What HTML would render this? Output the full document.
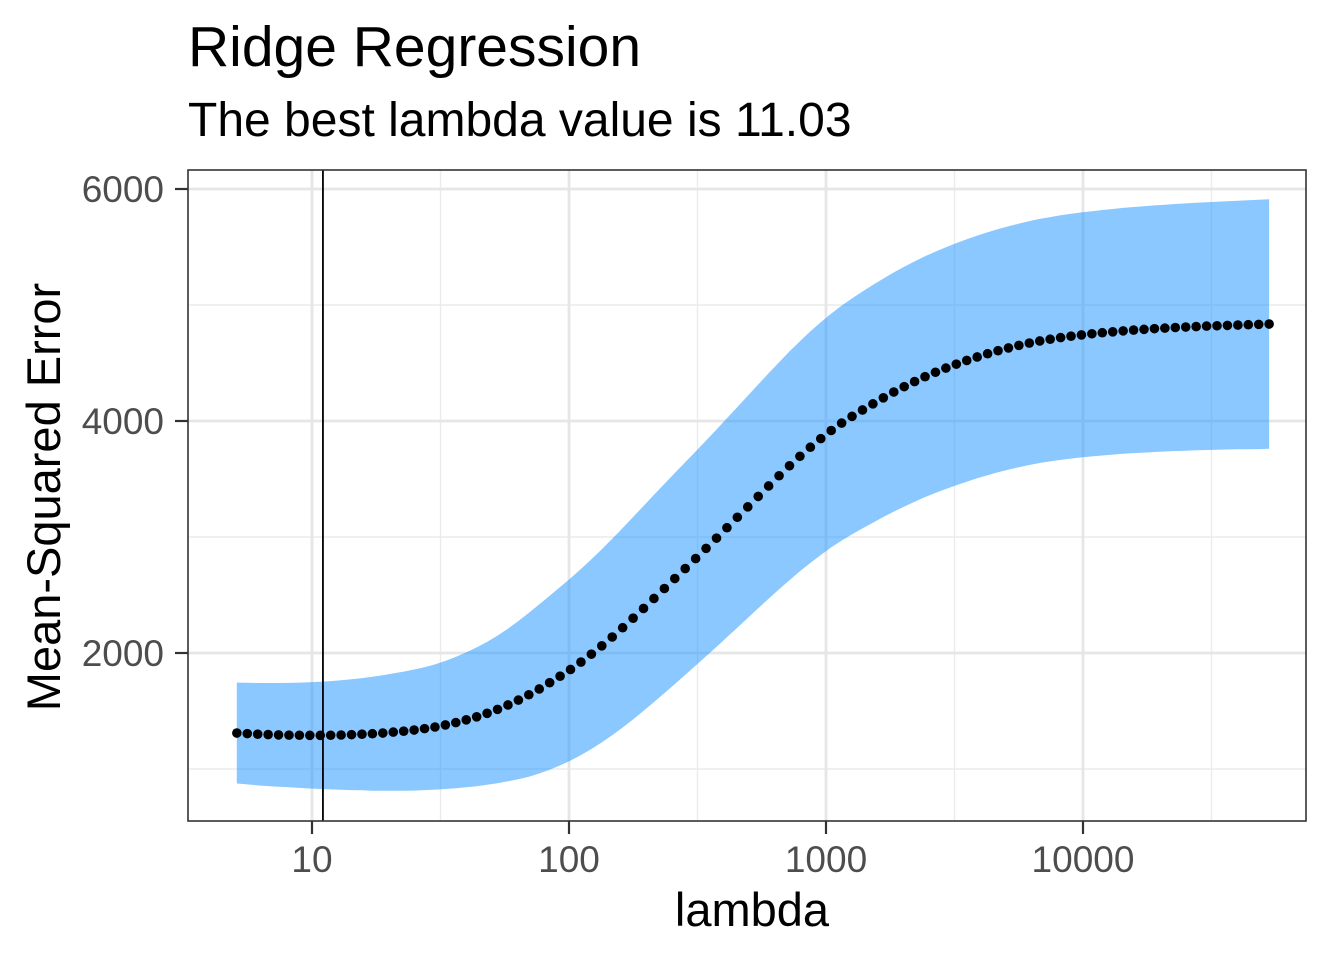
<!DOCTYPE html>
<html><head><meta charset="utf-8"><style>
html,body{margin:0;padding:0;background:#fff;}
svg text{font-family:"Liberation Sans",Arial,sans-serif;}
</style></head><body>
<svg id="chart" width="1344" height="960" viewBox="0 0 1344 960" xmlns="http://www.w3.org/2000/svg">
<text x="188" y="66" font-size="57" fill="#000">Ridge Regression</text>
<text x="188" y="136" font-size="48" fill="#000">The best lambda value is 11.03</text>
<g id="grid"></g>
<g id="ribbon"></g>
<g id="marks"></g>
<rect x="188" y="170" width="1118" height="651" fill="none" stroke="#333" stroke-width="1.6"/>
<g id="axes"></g>
<text x="752" y="926" font-size="47" text-anchor="middle" fill="#000">lambda</text>
<text transform="translate(60,497) rotate(-90)" font-size="47" text-anchor="middle" fill="#000">Mean-Squared Error</text>
</svg>
<script>
const xTicks=[10,100,1000,10000];
const xTickLabels=["10","100","1000","10000"];
const xMinor=[31.62,316.2,3162,31623];
const yTicks=[2000,4000,6000];
const yTickLabels=["2000","4000","6000"];
const yMinor=[1000,3000,5000];
const bestLambda=11.03;
const lambdaStart=5.1, lambdaEnd=53000, nLambda=100;
const mse=[1310,1305,1300,1297,1294,1292,1291,1290,1290,1291,1293,1296,1300,1304,1310,1318,1326,1336,1348,1362,1380,1400,1424,1450,1480,1514,1552,1594,1640,1690,1744,1800,1858,1922,1990,2062,2138,2218,2300,2384,2470,2556,2642,2728,2814,2902,2990,3080,3170,3260,3350,3440,3528,3614,3696,3774,3848,3918,3982,4040,4095,4148,4200,4250,4296,4340,4382,4420,4456,4490,4522,4552,4580,4606,4630,4652,4672,4690,4705,4719,4731,4742,4752,4761,4769,4777,4784,4790,4796,4801,4806,4810,4814,4818,4821,4824,4827,4830,4833,4836];
const se=[435,438,441,444,447,450,454,458,462,467,472,478,484,491,498,506,514,522,530,540,552,566,581,598,616,636,658,682,706,729,750,769,786,802,818,833,847,860,872,883,893,902,910,917,923,930,937,944,951,958,965,972,979,986,992,998,1003,1008,1013,1017,1021,1025,1028,1031,1034,1036,1038,1040,1042,1044,1045,1046,1047,1048,1049,1050,1051,1052,1053,1054,1055,1056,1057,1058,1059,1060,1061,1062,1063,1064,1065,1066,1067,1068,1069,1070,1071,1073,1075,1076,1078];

const NS="http://www.w3.org/2000/svg";
const X=l=>312+257*(Math.log10(l)-1);
const Y=v=>653-(v-2000)*0.116;
const lambdas=[];
for(let i=0;i<nLambda;i++){lambdas.push(Math.pow(10,Math.log10(lambdaStart)+i*(Math.log10(lambdaEnd)-Math.log10(lambdaStart))/(nLambda-1)));}
function mk(tag,attrs,parent){const e=document.createElementNS(NS,tag);for(const k in attrs)e.setAttribute(k,attrs[k]);document.getElementById(parent).appendChild(e);return e;}
xMinor.forEach(v=>{const e=mk('line',{x1:X(v),x2:X(v),y1:170,y2:821,stroke:'#ebebeb','stroke-width':1.4},'grid');

});
yMinor.forEach(v=>{const e=mk('line',{x1:188,x2:1306,y1:Y(v),y2:Y(v),stroke:'#ebebeb','stroke-width':1.4},'grid');

});
xTicks.forEach(v=>{const e=mk('line',{x1:X(v),x2:X(v),y1:170,y2:821,stroke:'#e6e6e6','stroke-width':2.8},'grid');

});
yTicks.forEach(v=>{const e=mk('line',{x1:188,x2:1306,y1:Y(v),y2:Y(v),stroke:'#e6e6e6','stroke-width':2.8},'grid');

});
let up=[],lo=[];
for(let i=0;i<nLambda;i++){up.push(X(lambdas[i]).toFixed(1)+','+Y(mse[i]+se[i]).toFixed(1));lo.unshift(X(lambdas[i]).toFixed(1)+','+Y(mse[i]-se[i]).toFixed(1));}
const rb=mk('polygon',{points:up.concat(lo).join(' '),fill:'rgb(30,150,255)','fill-opacity':0.52},'ribbon');


const vl=mk('line',{x1:X(bestLambda),x2:X(bestLambda),y1:170,y2:821,stroke:'#000','stroke-width':1.8},'marks');


for(let i=0;i<nLambda;i++){const c=mk('circle',{cx:X(lambdas[i]),cy:Y(mse[i]),r:4.8,fill:'#000'},'marks');

}
xTicks.forEach((v,i)=>{const t=mk('line',{x1:X(v),x2:X(v),y1:821,y2:834,stroke:'#333','stroke-width':2.2},'axes');


const l=mk('text',{x:X(v),y:872,'font-size':37,'text-anchor':'middle',fill:'#4d4d4d'},'axes');l.textContent=xTickLabels[i];

});
yTicks.forEach((v,i)=>{const t=mk('line',{x1:175,x2:188,y1:Y(v),y2:Y(v),stroke:'#333','stroke-width':2.2},'axes');


const l=mk('text',{x:164,y:Y(v)+13,'font-size':37,'text-anchor':'end',fill:'#4d4d4d'},'axes');l.textContent=yTickLabels[i];

});
</script>
</body></html>
